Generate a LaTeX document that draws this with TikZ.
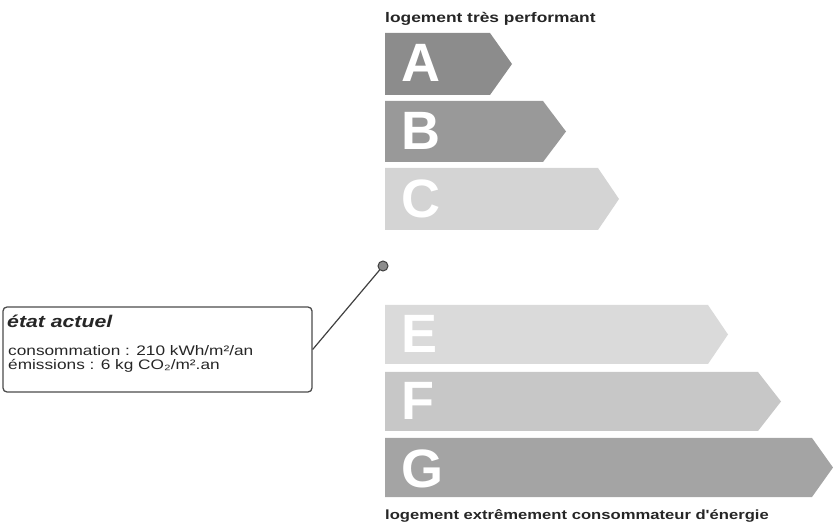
\documentclass[tikz,border=0pt]{standalone}
\usepackage{fontspec}
\setmainfont{Liberation Sans}
\newfontfamily\widefont[FakeStretch=1.25]{Liberation Sans}
\begin{document}
\begin{tikzpicture}[x=1pt,y=-1pt,
  letter/.style={text=white,font=\bfseries\fontsize{54}{54}\selectfont,inner sep=0pt,anchor=base west},
  caption/.style={font=\widefont\bfseries\fontsize{13.9}{14}\selectfont,inner sep=0pt,anchor=base west,text=black!85},
  infobox/.style={draw=black!70,line width=1.3pt,rounded corners=4pt,minimum width=309pt,minimum height=85pt,inner sep=0pt},
  info/.style={font=\widefont\fontsize{13.8}{14}\selectfont,inner sep=0pt,anchor=base west,text=black!85},
  pin/.style={circle,draw=black!75,fill=black!45,line width=1pt,minimum size=10pt,inner sep=0pt},
  link/.style={draw=black!75,line width=1.2pt}]
\useasboundingbox (0,0) rectangle (833,526);
\definecolor{cA}{HTML}{8C8C8C}
\definecolor{cB}{HTML}{999999}
\definecolor{cC}{HTML}{D4D4D4}
\definecolor{cE}{HTML}{DADADA}
\definecolor{cF}{HTML}{C7C7C7}
\definecolor{cG}{HTML}{A4A4A4}
\newcommand\ebar[5]{\fill[#5] (385,#1) -- (#3,#1) -- (#4,{(#1+#2)/2}) -- (#3,#2) -- (385,#2) -- cycle;}
\ebar{33}{95}{490}{512}{cA}
\ebar{101}{162}{543}{566}{cB}
\ebar{168}{230}{598}{619}{cC}
\ebar{305}{364}{708}{728}{cE}
\ebar{372}{431}{758}{781}{cF}
\ebar{438}{497}{812}{833}{cG}
\node[letter] (lA) at (401,82) {A};
\node[letter] (lB) at (401,150) {B};
\node[letter] (lC) at (401,218) {C};
\node[letter] (lE) at (401,353) {E};
\node[letter] (lF) at (401,420) {F};
\node[letter] (lG) at (401,487) {G};
\node[caption] (top) at (385,23) {logement très performant};
\node[caption,font=\widefont\bfseries\fontsize{13.3}{14}\selectfont] (bottom) at (385,519) {logement extrêmement consommateur d'énergie};
\node[infobox] (state) at (157.5,349.5) {};
\node[font=\widefont\bfseries\itshape\fontsize{17}{18}\selectfont,inner sep=0pt,anchor=base west,text=black!85] (title) at (7,328) {état actuel};
\node[info] (l1) at (8,356) {consommation : 210 kWh/m²/an};
\node[info] (l2) at (8,370) {émissions : 6 kg CO₂/m².an};
\node[pin] (cur) at (383,266) {};
\draw[link] (cur) -- (state.east);
\end{tikzpicture}
\end{document}
